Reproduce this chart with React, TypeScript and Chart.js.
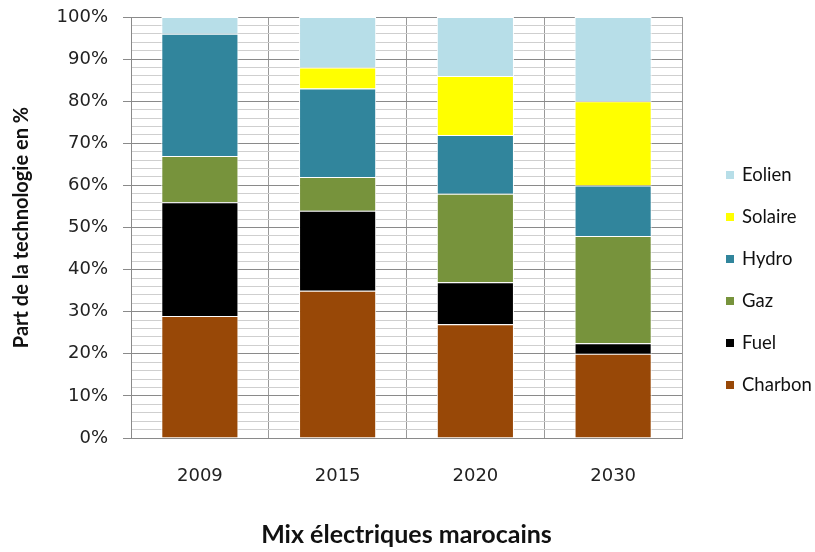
import React, { useEffect, useRef } from "react";
import { Chart, registerables } from "chart.js";

Chart.register(...registerables);

const categories = ["2009", "2015", "2020", "2030"];
const seriesNames = ["Charbon", "Fuel", "Gaz", "Hydro", "Solaire", "Eolien"];
const charbon = [29, 35, 27, 20];
const fuel = [27, 19, 10, 2.5];
const gaz = [11, 8, 21, 25.5];
const hydro = [29, 21, 14, 12];
const solaire = [0, 5, 14, 20];
const eolien = [4, 12, 14, 20];
const seriesColors = ["#984807", "#000000", "#77933C", "#31859C", "#FFFF00", "#B7DEE8"];
const yTickStep = 2;
const yMajorStep = 10;

const legendPlugin = {
  id: "customLegend",
  afterDraw(chart: any) {
    const ctx = chart.ctx;
    const ds = chart.data.datasets;
    ctx.save();
    ctx.font = "18.5px Lato";
    ctx.textBaseline = "middle";
    ctx.textAlign = "left";
    const n = ds.length;
    for (let i = 0; i < n; i++) {
      const d = ds[n - 1 - i];
      const cy = 175 + i * 42;
      ctx.fillStyle = d.backgroundColor;
      ctx.fillRect(726, cy - 4, 8, 8);
      ctx.fillStyle = "#111";
      ctx.fillText(d.label, 742, cy);
    }
    ctx.restore();
  },
};

export default function App() {
  const ref = useRef<HTMLCanvasElement>(null);
  useEffect(() => {
    const values = [charbon, fuel, gaz, hydro, solaire, eolien];
    const chart = new Chart(ref.current!, {
      type: "bar",
      data: {
        labels: categories,
        datasets: seriesNames.map((name, i) => ({
          label: name,
          data: values[i],
          backgroundColor: seriesColors[i],
          borderColor: "#ffffff",
          borderWidth: 1,
          barPercentage: 0.56,
          categoryPercentage: 1,
        })),
      },
      options: {
        animation: false,
        responsive: false,
        layout: { padding: { top: 17, right: 133, left: 0, bottom: 0 } },
        plugins: { legend: { display: false }, tooltip: { enabled: false } },
        scales: {
          x: {
            stacked: true,
            afterFit: (s: any) => { s.height = 114; },
            grid: { color: "#9a9a9a", drawTicks: false, offset: true },
            border: { color: "#8a8a8a" },
            ticks: { font: { family: "DejaVu Sans", size: 18 }, color: "#222", padding: 28 },
            title: {
              display: true,
              text: "Mix électriques marocains",
              font: { family: "Lato", size: 25, weight: "bold" },
              color: "#111",
              padding: { top: 0, bottom: 2 },
            },
          },
          y: {
            stacked: true,
            min: 0,
            max: 100,
            afterFit: (s: any) => { s.width = 131; s.paddingTop = 0; s.paddingBottom = 0; },
            grid: {
              color: (c: any) => (c.tick && c.tick.value % yMajorStep === 0 ? "#8a8a8a" : "#cfcfcf"),
              tickColor: (c: any) => (c.tick && c.tick.value % yMajorStep === 0 ? "#8a8a8a" : "rgba(0,0,0,0)"),
              tickLength: 8,
            },
            border: { color: "#8a8a8a" },
            ticks: {
              stepSize: yTickStep,
              autoSkip: false,
              padding: 15,
              font: { family: "DejaVu Sans", size: 18 },
              color: "#222",
              callback: (v: any) => (v % yMajorStep === 0 ? v + "%" : ""),
            },
            title: {
              display: true,
              text: "Part de la technologie en %",
              font: { family: "Lato", size: 20, weight: "bold" },
              color: "#111",
              padding: { top: 10, bottom: 0 },
            },
          },
        },
      },
      plugins: [legendPlugin],
    });
    return () => chart.destroy();
  }, []);
  return (
    <div style={{ position: "absolute", left: 0, top: 0, width: 815, height: 552, background: "#fff" }}>
      <canvas ref={ref} width={815} height={552} />
    </div>
  );
}
